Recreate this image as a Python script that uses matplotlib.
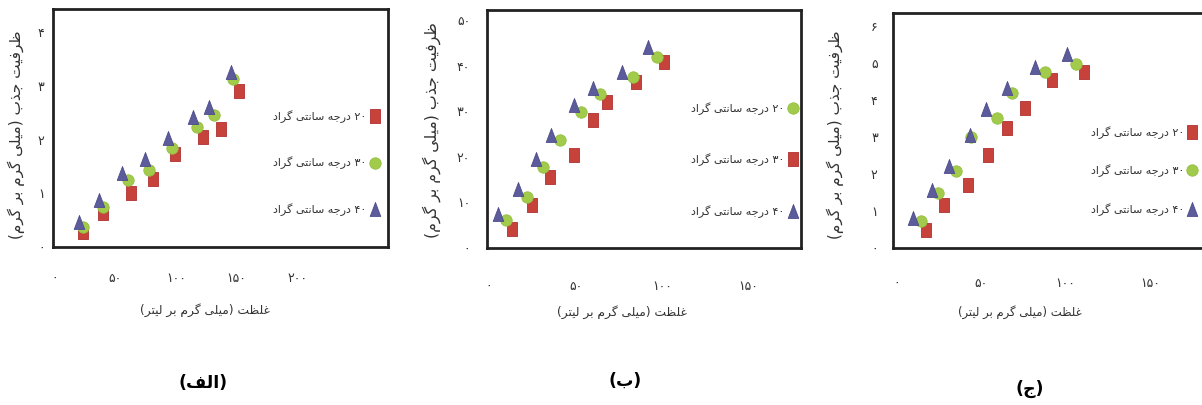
import matplotlib
matplotlib.use("Agg")
import matplotlib.pyplot as plt
from matplotlib import font_manager, ft2font

# ---------------- data ----------------
# Panel (الف)
a_x_sq = [23, 40, 63, 81, 99, 122, 137, 152]
a_y_sq = [0.28, 0.63, 1.00, 1.26, 1.74, 2.05, 2.20, 2.90]
a_x_ci = [23, 40, 60, 78, 97, 117, 131, 147]
a_y_ci = [0.37, 0.74, 1.24, 1.43, 1.84, 2.23, 2.46, 3.12]
a_x_tr = [20, 36, 55, 74, 93, 114, 127, 145]
a_y_tr = [0.47, 0.87, 1.38, 1.64, 2.02, 2.42, 2.60, 3.26]

# Panel (ب)
b_x_sq = [13, 25, 35, 49, 60, 68, 85, 101]
b_y_sq = [4.2, 9.4, 15.6, 20.4, 28.1, 32.0, 36.4, 40.8]
b_x_ci = [10, 22, 31, 41, 53, 64, 83, 97]
b_y_ci = [6.1, 11.2, 17.8, 23.7, 29.8, 33.8, 37.5, 41.9]
b_x_tr = [5, 17, 27, 36, 49, 60, 77, 92]
b_y_tr = [7.5, 12.9, 19.5, 24.8, 31.4, 35.1, 38.6, 44.1]

# Panel (ج)
c_x_sq = [17, 28, 42, 54, 65, 76, 92, 111]
c_y_sq = [0.48, 1.16, 1.69, 2.50, 3.23, 3.79, 4.54, 4.76]
c_x_ci = [14, 24, 35, 44, 59, 68, 88, 106]
c_y_ci = [0.73, 1.48, 2.07, 3.00, 3.52, 4.17, 4.76, 4.97]
c_x_tr = [9.5, 21, 31, 43, 53, 65, 82, 101]
c_y_tr = [0.81, 1.56, 2.20, 3.04, 3.76, 4.33, 4.89, 5.24]

a_xticks = [0, 50, 100, 150, 200]
a_yticks = [0, 1, 2, 3, 4]
b_xticks = [0, 50, 100, 150]
b_yticks = [0, 10, 20, 30, 40, 50]
c_xticks = [0, 50, 100, 150]
c_yticks = [0, 1, 2, 3, 4, 5, 6]

ylabel_txt = "ظرفیت جذب (میلی گرم بر گرم)"
xlabel_txt = "غلظت (میلی گرم بر لیتر)"
lab20 = "۲۰ درجه سانتی گراد"
lab30 = "۳۰ درجه سانتی گراد"
lab40 = "۴۰ درجه سانتی گراد"
panel_titles = ["(الف)", "(ب)", "(ج)"]

# ---------------- simple Persian shaping ----------------
_path = font_manager.findfont("DejaVu Sans")
_cmap = ft2font.FT2Font(_path).get_charmap()
def _has(c):
    return ord(c) in _cmap

FORMS = {
    '\u0627': ('\uFE8D', '\uFE8E', None, None),
    '\u0628': ('\uFE8F', '\uFE90', '\uFE91', '\uFE92'),
    '\u062A': ('\uFE95', '\uFE96', '\uFE97', '\uFE98'),
    '\u062C': ('\uFE9D', '\uFE9E', '\uFE9F', '\uFEA0'),
    '\u062F': ('\uFEA9', '\uFEAA', None, None),
    '\u0630': ('\uFEAB', '\uFEAC', None, None),
    '\u0631': ('\uFEAD', '\uFEAE', None, None),
    '\u0633': ('\uFEB1', '\uFEB2', '\uFEB3', '\uFEB4'),
    '\u0638': ('\uFEC5', '\uFEC6', '\uFEC7', '\uFEC8'),
    '\u063A': ('\uFECD', '\uFECE', '\uFECF', '\uFED0'),
    '\u0641': ('\uFED1', '\uFED2', '\uFED3', '\uFED4'),
    '\u0644': ('\uFEDD', '\uFEDE', '\uFEDF', '\uFEE0'),
    '\u0645': ('\uFEE1', '\uFEE2', '\uFEE3', '\uFEE4'),
    '\u0646': ('\uFEE5', '\uFEE6', '\uFEE7', '\uFEE8'),
    '\u0647': ('\uFEE9', '\uFEEA', '\uFEEB', '\uFEEC'),
    '\u06CC': ('\uFBFC', '\uFBFD', '\uFBFE', '\uFBFF'),
    '\u06AF': ('\uFB92', '\uFB93', '\uFB94', '\uFB95'),
}
if not all(_has(c) for c in FORMS['\u06CC']):
    FORMS['\u06CC'] = ('\uFEEF', '\uFEF0', '\uFEF3', '\uFEF4')
if not all(_has(c) for c in FORMS['\u06AF']):
    FORMS['\u06AF'] = ('\uFED9', '\uFEDA', '\uFEDB', '\uFEDC')
MIRROR = {'(': ')', ')': '('}

def shape(s):
    out = []
    n = len(s)
    for i, ch in enumerate(s):
        if ch not in FORMS:
            out.append(ch)
            continue
        f = FORMS[ch]
        prev = s[i - 1] if i > 0 else None
        nxt = s[i + 1] if i + 1 < n else None
        jp = prev in FORMS and FORMS[prev][2] is not None
        jn = nxt in FORMS and f[2] is not None
        if jp and jn:
            out.append(f[3])
        elif jp:
            out.append(f[1])
        elif jn:
            out.append(f[2])
        else:
            out.append(f[0])
    return ''.join(out)

def fa(s):
    sh = shape(s)
    runs = []
    for ch in sh:
        d = ch.isdigit()
        if runs and runs[-1][0] == d:
            runs[-1][1].append(ch)
        else:
            runs.append([d, [ch]])
    res = []
    for d, chars in reversed(runs):
        if d:
            res.append(''.join(chars))
        else:
            res.append(''.join(MIRROR.get(c, c) for c in reversed(chars)))
    return ''.join(res)

PD = str.maketrans("0123456789", "۰۱۲۳۴۵۶۷۸۹")
def pdig(v):
    return str(v).translate(PD)

# ---------------- style ----------------
RED = '#c8423c'
GREEN = '#a2cb4c'
PURP = '#5c5b9b'
SQ = [(-0.36, -0.5), (0.36, -0.5), (0.36, 0.5), (-0.36, 0.5), (-0.36, -0.5)]
TR = [(0, 0.5), (-0.38, -0.5), (0.38, -0.5), (0, 0.5)]
TXT = '#333333'

fig = plt.figure(figsize=(12.02, 4.05), dpi=100)

def panel(rect, xs, ys, xlim, ylim, xticks, yticks, xpad, ypad,
          leg_order, leg_labels, leg_anchor, leg_space, ylab_pos, xlab_pos,
          ylab_fs, xlab_fs):
    ax = fig.add_axes(rect)
    hs = ax.plot(xs[0], ys[0], linestyle='none', marker=SQ, ms=10,
                 mfc=RED, mec='#b03030', mew=0.6)[0]
    hc = ax.plot(xs[1], ys[1], linestyle='none', marker='o', ms=8.2,
                 mfc=GREEN, mec='#93bf40', mew=0.6)[0]
    ht = ax.plot(xs[2], ys[2], linestyle='none', marker=TR, ms=10,
                 mfc=PURP, mec='#4d4c8a', mew=0.6)[0]
    handles = {'sq': hs, 'ci': hc, 'tr': ht}
    ax.set_xlim(*xlim)
    ax.set_ylim(*ylim)
    ax.set_xticks(xticks)
    ax.set_xticklabels([pdig(v) for v in xticks])
    ax.set_yticks(yticks)
    ax.set_yticklabels([pdig(v) for v in yticks])
    ax.tick_params(axis='x', length=0, pad=xpad, labelsize=9, labelcolor=TXT)
    ax.tick_params(axis='y', length=0, pad=ypad, labelsize=9, labelcolor=TXT)
    for sp in ax.spines.values():
        sp.set_linewidth(2.0)
        sp.set_color('#222222')
    ax.legend([handles[k] for k in leg_order], [fa(t) for t in leg_labels],
              loc='center right', bbox_to_anchor=leg_anchor, markerfirst=False,
              frameon=False, handlelength=0.9, handletextpad=0.3,
              labelspacing=leg_space, fontsize=8, borderpad=0,
              borderaxespad=0, labelcolor=TXT)
    ax.text(ylab_pos[0], ylab_pos[1], fa(ylabel_txt), rotation=90,
            transform=ax.transAxes, ha='center', va='center',
            fontsize=ylab_fs, color=TXT)
    ax.text(xlab_pos[0], xlab_pos[1], fa(xlabel_txt),
            transform=ax.transAxes, ha='center', va='center',
            fontsize=xlab_fs, color=TXT)
    return ax

panel([53/1202, 1-247/405, 335/1202, 238/405],
      [a_x_sq, a_x_ci, a_x_tr], [a_y_sq, a_y_ci, a_y_tr],
      (-1.6, 275), (0, 4.43), a_xticks, a_yticks, 18, 6,
      ['sq', 'ci', 'tr'], [lab20, lab30, lab40], (0.975, 0.353), 3.0,
      (-0.11, 0.47), (0.454, -0.265), 11, 8.8)

panel([487/1202, 1-248/405, 314/1202, 238/405],
      [b_x_sq, b_x_ci, b_x_tr], [b_y_sq, b_y_ci, b_y_tr],
      (-1.2, 180.3), (0, 52.2), b_xticks, b_yticks, 23, 12,
      ['ci', 'sq', 'tr'], [lab20, lab30, lab40], (0.99, 0.37), 3.5,
      (-0.175, 0.496), (0.43, -0.269), 11.3, 8.8)

panel([893/1202, 1-248/405, 322/1202, 235/405],
      [c_x_sq, c_x_ci, c_x_tr], [c_y_sq, c_y_ci, c_y_tr],
      (-2.4, 188.6), (0, 6.34), c_xticks, c_yticks, 21, 11,
      ['sq', 'ci', 'tr'], [lab20, lab30, lab40], (0.945, 0.328), 2.3,
      (-0.18, 0.48), (0.394, -0.272), 11, 8.4)

for (px, py), t in zip([(203, 383), (625, 381), (1030, 389)], panel_titles):
    fig.text(px/1202, 1-py/405, fa(t), ha='center', va='center',
             fontsize=12.5, fontweight='bold', color='black')

fig.savefig("out.png", dpi=100)
